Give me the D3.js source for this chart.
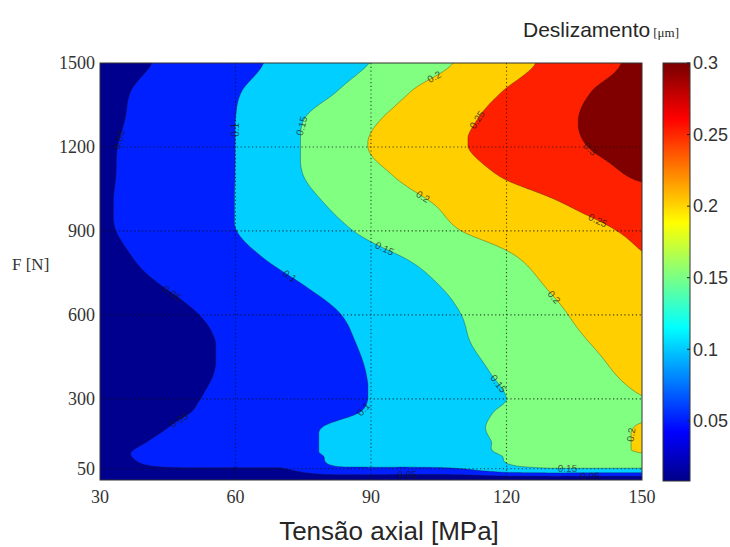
<!DOCTYPE html>
<html>
<head>
<meta charset="utf-8">
<script src="https://cdn.jsdelivr.net/npm/d3@7"></script>
<style>
  body { margin: 0; background: #fff; }
  svg { display: block; }
</style>
</head>
<body>
<div id="chart"></div>
<script>
// Axial stress columns [MPa]
const stress = [30, 40, 50, 60, 70, 80, 90, 100, 110, 120, 130, 140, 150];
// Normal force rows [N], bottom to top
const force = [10, 50, 100, 150, 200, 250, 300, 400, 500, 600, 700, 800, 900, 1000, 1100, 1200, 1300, 1400, 1500];
// Slip [um], one row per force value, one column per stress value
const slip = [
  [0.008, 0.008, 0.009, 0.009, 0.010, 0.012, 0.012, 0.012, 0.012, 0.012, 0.012, 0.012, 0.012],
  [0.030, 0.045, 0.048, 0.047, 0.047, 0.090, 0.095, 0.094, 0.100, 0.135, 0.147, 0.147, 0.146],
  [0.043, 0.054, 0.066, 0.078, 0.089, 0.101, 0.114, 0.126, 0.139, 0.152, 0.168, 0.184, 0.197],
  [0.035, 0.049, 0.062, 0.075, 0.089, 0.102, 0.115, 0.128, 0.141, 0.155, 0.172, 0.186, 0.203],
  [0.027, 0.042, 0.057, 0.071, 0.086, 0.101, 0.115, 0.128, 0.142, 0.157, 0.172, 0.185, 0.202],
  [0.024, 0.037, 0.050, 0.063, 0.077, 0.090, 0.104, 0.121, 0.138, 0.155, 0.170, 0.184, 0.195],
  [0.021, 0.034, 0.047, 0.060, 0.074, 0.087, 0.101, 0.117, 0.134, 0.150, 0.167, 0.184, 0.199],
  [0.015, 0.027, 0.042, 0.057, 0.072, 0.087, 0.102, 0.121, 0.139, 0.157, 0.175, 0.193, 0.211],
  [0.015, 0.025, 0.041, 0.057, 0.073, 0.089, 0.106, 0.126, 0.146, 0.165, 0.184, 0.203, 0.222],
  [0.020, 0.031, 0.047, 0.062, 0.078, 0.094, 0.112, 0.131, 0.150, 0.171, 0.192, 0.214, 0.235],
  [0.028, 0.044, 0.059, 0.075, 0.091, 0.107, 0.124, 0.140, 0.159, 0.181, 0.203, 0.222, 0.240],
  [0.037, 0.055, 0.072, 0.089, 0.106, 0.122, 0.137, 0.154, 0.174, 0.194, 0.214, 0.232, 0.248],
  [0.045, 0.063, 0.082, 0.0995, 0.119, 0.138, 0.158, 0.180, 0.200, 0.215, 0.229, 0.243, 0.257],
  [0.046, 0.064, 0.082, 0.1005, 0.126, 0.151, 0.172, 0.193, 0.212, 0.229, 0.246, 0.263, 0.280],
  [0.045, 0.063, 0.082, 0.1003, 0.135, 0.164, 0.189, 0.212, 0.233, 0.254, 0.271, 0.288, 0.305],
  [0.044, 0.063, 0.082, 0.1002, 0.135, 0.169, 0.202, 0.224, 0.247, 0.266, 0.284, 0.303, 0.310],
  [0.040, 0.060, 0.080, 0.1000, 0.133, 0.165, 0.194, 0.219, 0.242, 0.264, 0.286, 0.308, 0.315],
  [0.037, 0.057, 0.077, 0.097, 0.119, 0.143, 0.172, 0.203, 0.228, 0.252, 0.277, 0.302, 0.310],
  [0.026, 0.047, 0.067, 0.087, 0.108, 0.129, 0.151, 0.178, 0.205, 0.232, 0.260, 0.289, 0.306]
];
const levels = [0.05, 0.1, 0.15, 0.2, 0.25, 0.3];
const colorRange = [0.008, 0.3];

const xTicks = [30, 60, 90, 120, 150];
const yTicks = [50, 300, 600, 900, 1200, 1500];
const cTicks = [0.05, 0.1, 0.15, 0.2, 0.25, 0.3];

// inline contour labels: level and an anchor near the line (stress, force)
const labels = [
  [0.05, 34, 1225], [0.1, 60.3, 1261], [0.15, 74.3, 1279], [0.2, 104.6, 1432],
  [0.25, 112.1, 1314], [0.3, 138, 1189], [0.2, 100.8, 1011], [0.25, 140, 932],
  [0.15, 92.7, 821], [0.1, 72.5, 743], [0.05, 45.9, 682], [0.2, 131.2, 668],
  [0.15, 117.9, 350], [0.1, 88.7, 254], [0.05, 47.3, 225], [0.2, 146.9, 171],
  [0.15, 133.6, 54], [0.05, 98.2, 22], [0.05, 138.5, 20]
];

// MATLAB jet(64)
function jet64(k) {
  const r = k <= 24 ? 0 : k <= 40 ? (k - 24) / 16 : k <= 56 ? 1 : 1 - (k - 56) / 16;
  const g = k <= 8 ? 0 : k <= 24 ? (k - 8) / 16 : k <= 40 ? 1 : k <= 56 ? 1 - (k - 40) / 16 : 0;
  const b = k <= 8 ? 0.5 + k / 16 : k <= 24 ? 1 : k <= 40 ? 1 - (k - 24) / 16 : 0;
  return d3.rgb(r * 255, g * 255, b * 255).formatHex();
}
function colorOf(v) {
  const k = Math.floor((v - colorRange[0]) / (colorRange[1] - colorRange[0]) * 64) + 1;
  return jet64(Math.max(1, Math.min(64, k)));
}

// ---- layout
const W = 730, H = 547;
const x = d3.scaleLinear().domain([30, 150]).range([100, 642]);
const y = d3.scaleLinear().domain([10, 1500]).range([480, 63]);
const cbar = { x0: 663, x1: 690 };
const cy = d3.scaleLinear().domain(colorRange).range([481, 63]);

const svg = d3.select('#chart').append('svg')
  .attr('width', W).attr('height', H);

svg.append('clipPath').attr('id', 'plotclip')
  .append('rect')
  .attr('x', x(30)).attr('y', y(1500))
  .attr('width', x(150) - x(30)).attr('height', y(10) - y(1500));

// ---- resample the grid (Catmull-Rom) so the filled contours come out smooth
function cr(p0, p1, p2, p3, t) {
  const t2 = t * t, t3 = t2 * t;
  const v = 0.5 * (2 * p1 + (-p0 + p2) * t + (2 * p0 - 5 * p1 + 4 * p2 - p3) * t2 + (-p0 + 3 * p1 - 3 * p2 + p3) * t3);
  return Math.max(Math.min(p1, p2), Math.min(Math.max(p1, p2), v));
}
function locate(arr, v) {
  let i = d3.bisectRight(arr, v) - 1;
  i = Math.max(0, Math.min(arr.length - 2, i));
  return [i, (v - arr[i]) / (arr[i + 1] - arr[i])];
}
function sample(s, f) {
  const [i, tx] = locate(stress, s);
  const [j, ty] = locate(force, f);
  const row = k => {
    const r = slip[Math.max(0, Math.min(force.length - 1, k))];
    const g = c => r[Math.max(0, Math.min(stress.length - 1, c))];
    return cr(g(i - 1), g(i), g(i + 1), g(i + 2), tx);
  };
  return cr(row(j - 1), row(j), row(j + 1), row(j + 2), ty);
}

const nx = 241, ny = 213;
const gridVals = new Array(nx * ny);
for (let j = 0; j < ny; j++) {
  const f = 1500 - j * (1490 / (ny - 1));
  for (let i = 0; i < nx; i++) {
    const s = 30 + i * (120 / (nx - 1));
    gridVals[i + j * nx] = sample(s, f);
  }
}
const gx = g => x(30) + (g - 0.5) * (x(150) - x(30)) / (nx - 1);
const gy = g => y(1500) + (g - 0.5) * (y(10) - y(1500)) / (ny - 1);
const path = d3.geoPath(d3.geoTransform({
  point(a, b) { this.stream.point(gx(a), gy(b)); }
}));
const contours = d3.contours().size([nx, ny]);
const bands = levels.map(l => contours.contour(gridVals, l));

const plot = svg.append('g').attr('clip-path', 'url(#plotclip)');
plot.append('rect')
  .attr('x', x(30)).attr('y', y(1500))
  .attr('width', x(150) - x(30)).attr('height', y(10) - y(1500))
  .attr('fill', colorOf(colorRange[0]));

plot.selectAll('path.band')
  .data(bands)
  .join('path')
  .attr('class', 'band')
  .attr('d', path)
  .attr('fill', d => colorOf(d.value))
  .attr('stroke', '#1a1a1a')
  .attr('stroke-opacity', 0.55)
  .attr('stroke-width', 0.6);

// ---- dotted grid
const grid = svg.append('g')
  .attr('stroke', '#111').attr('stroke-width', 1.1)
  .attr('stroke-dasharray', '1.2,2.6').attr('opacity', 0.75);
grid.selectAll('line.v')
  .data(xTicks.slice(1, -1))
  .join('line')
  .attr('x1', d => x(d)).attr('x2', d => x(d))
  .attr('y1', y(1500)).attr('y2', y(10));
grid.selectAll('line.h')
  .data(yTicks.slice(0, -1))
  .join('line')
  .attr('x1', x(30)).attr('x2', x(150))
  .attr('y1', d => y(d)).attr('y2', d => y(d));

// ---- contour labels
const labelG = svg.append('g').attr('clip-path', 'url(#plotclip)');
labels.forEach(([lv, s, f]) => {
  const band = bands[levels.indexOf(lv)];
  const rings = [];
  band.coordinates.forEach(poly => poly.forEach(r => rings.push(r.map(p => [gx(p[0]), gy(p[1])]))));
  const tx = x(s), ty = y(f);
  let best = null, bd = Infinity;
  rings.forEach(r => r.forEach((p, k) => {
    const d = (p[0] - tx) ** 2 + (p[1] - ty) ** 2;
    if (d < bd) { bd = d; best = [r, k]; }
  }));
  if (!best) return;
  const [r, k] = best;
  const a = r[Math.max(0, k - 3)], b = r[Math.min(r.length - 1, k + 3)];
  let ang = Math.atan2(b[1] - a[1], b[0] - a[0]) * 180 / Math.PI;
  if (ang > 90) ang -= 180;
  if (ang < -90) ang += 180;
  labelG.append('text')
    .attr('transform', `translate(${r[k][0]},${r[k][1]}) rotate(${ang})`)
    .attr('text-anchor', 'middle')
    .attr('dy', '0.35em')
    .style('font-family', 'Liberation Sans, Arial, sans-serif')
    .style('font-size', '10px')
    .attr('fill', '#1a1a1a')
    .attr('fill-opacity', 0.75)
    .text(String(lv));
});

// ---- axes frame and ticks
svg.append('rect')
  .attr('x', x(30)).attr('y', y(1500))
  .attr('width', x(150) - x(30)).attr('height', y(10) - y(1500))
  .attr('fill', 'none').attr('stroke', '#333').attr('stroke-width', 1);

const tickFont = 'Liberation Serif, Times New Roman, serif';
svg.append('g').selectAll('text')
  .data(xTicks).join('text')
  .attr('x', d => x(d)).attr('y', 503)
  .attr('text-anchor', 'middle')
  .style('font-family', tickFont).style('font-size', '18px')
  .attr('fill', '#333')
  .text(d => d);
svg.append('g').selectAll('text')
  .data(yTicks).join('text')
  .attr('x', 95).attr('y', d => y(d))
  .attr('dy', '0.35em')
  .attr('text-anchor', 'end')
  .style('font-family', tickFont).style('font-size', '18px')
  .attr('fill', '#333')
  .text(d => d);

svg.append('text')
  .attr('x', 12).attr('y', 270)
  .style('font-family', tickFont).style('font-size', '17px')
  .attr('fill', '#333')
  .text('F [N]');

svg.append('text')
  .attr('x', 389).attr('y', 540)
  .attr('text-anchor', 'middle')
  .style('font-family', 'Liberation Sans, Arial, sans-serif').style('font-size', '26px')
  .attr('fill', '#262626')
  .text('Tensão axial [MPa]');

// ---- colorbar
const grad = svg.append('defs').append('linearGradient')
  .attr('id', 'jet').attr('x1', 0).attr('y1', 1).attr('x2', 0).attr('y2', 0);
grad.selectAll('stop')
  .data(d3.range(1, 65)).join('stop')
  .attr('offset', k => (k - 0.5) / 64)
  .attr('stop-color', k => jet64(k));
svg.append('rect')
  .attr('x', cbar.x0).attr('y', cy(colorRange[1]))
  .attr('width', cbar.x1 - cbar.x0).attr('height', cy(colorRange[0]) - cy(colorRange[1]))
  .attr('fill', 'url(#jet)')
  .attr('stroke', '#333').attr('stroke-width', 1);
svg.append('g').selectAll('line')
  .data(cTicks).join('line')
  .attr('x1', cbar.x1 - 3).attr('x2', cbar.x1)
  .attr('y1', d => cy(d)).attr('y2', d => cy(d))
  .attr('stroke', '#222');
svg.append('g').selectAll('text')
  .data(cTicks).join('text')
  .attr('x', 693).attr('y', d => cy(d))
  .attr('dy', '0.35em')
  .style('font-family', 'Liberation Sans, Arial, sans-serif').style('font-size', '18px')
  .attr('fill', '#333')
  .text(d => String(d));

const title = svg.append('text')
  .attr('x', 523).attr('y', 37)
  .attr('fill', '#262626');
title.append('tspan')
  .style('font-family', 'Liberation Sans, Arial, sans-serif').style('font-size', '21px')
  .text('Deslizamento');
title.append('tspan')
  .attr('dx', 3)
  .style('font-family', tickFont).style('font-size', '13px')
  .text('[μm]');
</script>
</body>
</html>
